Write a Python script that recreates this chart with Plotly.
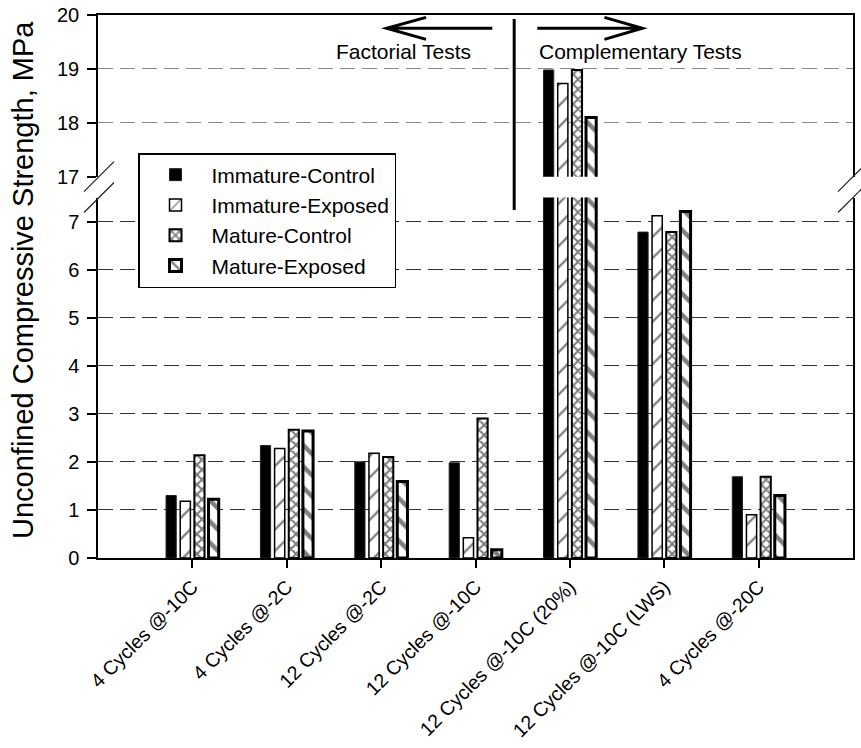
import plotly.graph_objects as go

# ---------------- data ----------------
categories = ["4 Cycles @-10C", "4 Cycles @-2C", "12 Cycles @-2C", "12 Cycles @-10C",
              "12 Cycles @-10C (20%)", "12 Cycles @-10C (LWS)", "4 Cycles @-20C"]
immature_control = [1.30, 2.34, 2.00, 1.98, 18.98, 6.78, 1.69]
immature_exposed = [1.18, 2.28, 2.18, 0.42, 18.73, 7.12, 0.90]
mature_control = [2.14, 2.67, 2.10, 2.90, 18.98, 6.78, 1.69]
mature_exposed = [1.22, 2.64, 1.59, 0.17, 18.10, 7.21, 1.30]
series_names = ["Immature-Control", "Immature-Exposed", "Mature-Control", "Mature-Exposed"]
series_values = [immature_control, immature_exposed, mature_control, mature_exposed]
lower_ticks = [0, 1, 2, 3, 4, 5, 6, 7]
upper_ticks = [17, 18, 19, 20]

FONT = "Liberation Sans, Arial, sans-serif"

styles = [
    dict(color="black", line=dict(color="#222", width=1)),
    dict(color="white", line=dict(color="black", width=1.5),
         pattern=dict(shape="/", size=15, solidity=0.15, fgcolor="black", bgcolor="white")),
    dict(color="white", line=dict(color="black", width=2),
         pattern=dict(shape="x", size=7, solidity=0.5, fgcolor="black", bgcolor="white")),
    dict(color="white", line=dict(color="black", width=3),
         pattern=dict(shape="\\", size=15, solidity=0.3, fgcolor="black", bgcolor="white")),
]

fig = go.Figure()
for name, vals, st in zip(series_names, series_values, styles):
    fig.add_trace(go.Bar(x=categories, y=vals, name=name, marker=st,
                         xaxis="x", yaxis="y", showlegend=True, legendgroup=name))
for name, vals, st in zip(series_names, series_values, styles):
    fig.add_trace(go.Bar(x=categories, y=vals, name=name, marker=st,
                         xaxis="x2", yaxis="y2", showlegend=False, legendgroup=name))

# plot-area geometry (pixels) used for decorations
W, H = 861, 748
ML, MR, MT, MB = 98, 8, 15, 190
PW, PH = W - ML - MR, H - MT - MB


def px(x):
    return (x - ML) / PW


def py(y):
    return (H - MB - y) / PH


upper_bottom_px = 176.7
lower_top_px = 197.5

grid_dash = "15px,7px"
common_y = dict(showline=True, linecolor="black", linewidth=1.5, mirror=True,
                ticks="outside", ticklen=9, tickwidth=1.5, tickcolor="black",
                tickfont=dict(size=20, color="black", family=FONT), ticklabelstandoff=4,
                zeroline=False, griddash=grid_dash, gridwidth=1.3, automargin=False)

fig.update_layout(
    width=W, height=H,
    margin=dict(l=ML, r=MR, t=MT, b=MB, autoexpand=False),
    paper_bgcolor="white", plot_bgcolor="white",
    font=dict(family=FONT, size=20, color="black"),
    barmode="group", bargap=0.4, bargroupgap=0.28,
    xaxis=dict(domain=[0, 1], anchor="y", type="category", range=[-1, 7],
               showline=True, linecolor="black", linewidth=1.5,
               ticks="outside", ticklen=8, tickwidth=1.5, tickcolor="black",
               tickangle=-45, tickfont=dict(size=19.5, color="black", family=FONT),
               showgrid=False, automargin=False),
    xaxis2=dict(anchor="y2", matches="x", type="category", range=[-1, 7], side="top",
                showline=True, linecolor="black", linewidth=2,
                ticks="", showticklabels=False, showgrid=False, automargin=False),
    yaxis=dict(domain=[0, py(lower_top_px)], range=[0, 7.5], tickvals=lower_ticks,
               gridcolor="#333", **common_y),
    yaxis2=dict(domain=[py(upper_bottom_px), 1], range=[17, 20], tickvals=upper_ticks,
                gridcolor="#8a8a8a", **common_y),
    legend=dict(x=px(138), y=py(153), xanchor="left", yanchor="top",
                bordercolor="black", borderwidth=1.5, bgcolor="white",
                font=dict(size=21, family=FONT, color="black"),
                itemwidth=62, tracegroupgap=0),
    showlegend=True,
)

shapes = []
# axis-break marks
for xa in (ML + 1, W - MR):
    for yb in (upper_bottom_px, lower_top_px):
        shapes.append(dict(type="line", xref="paper", yref="paper",
                           x0=px(xa - 15), y0=py(yb + 15), x1=px(xa + 15), y1=py(yb - 15),
                           line=dict(color="#222", width=1.2)))
# divider between factorial and complementary tests
shapes.append(dict(type="line", xref="x", yref="paper", x0=3.41, x1=3.41,
                   y0=py(210), y1=py(19), line=dict(color="black", width=3)))
# arrows (in data coordinates of the upper panel)
ya, yh, yl = 19.753, 19.957, 19.548
shapes.append(dict(type="path", xref="x2", yref="y2",
                   path=f"M3.178,{ya} L2.058,{ya} M2.476,{yh} L2.058,{ya} L2.476,{yl}",
                   line=dict(color="black", width=3)))
shapes.append(dict(type="path", xref="x2", yref="y2",
                   path=f"M3.655,{ya} L4.768,{ya} M4.366,{yh} L4.768,{ya} L4.366,{yl}",
                   line=dict(color="black", width=3)))
fig.update_layout(shapes=shapes)

annotations = [
    dict(text="Factorial Tests", xref="x2", yref="y2", x=2.236, y=19.33,
         showarrow=False, font=dict(size=21, family=FONT, color="black")),
    dict(text="Complementary Tests", xref="x2", yref="y2", x=4.748, y=19.33,
         showarrow=False, font=dict(size=21, family=FONT, color="black")),
    dict(text="Unconfined Compressive Strength, MPa", xref="paper", yref="paper",
         x=px(23), y=py(280), xanchor="center", yanchor="middle", textangle=-90,
         showarrow=False, font=dict(size=29, family=FONT, color="black")),
]
fig.update_layout(annotations=annotations)

fig.write_html("out.html")
